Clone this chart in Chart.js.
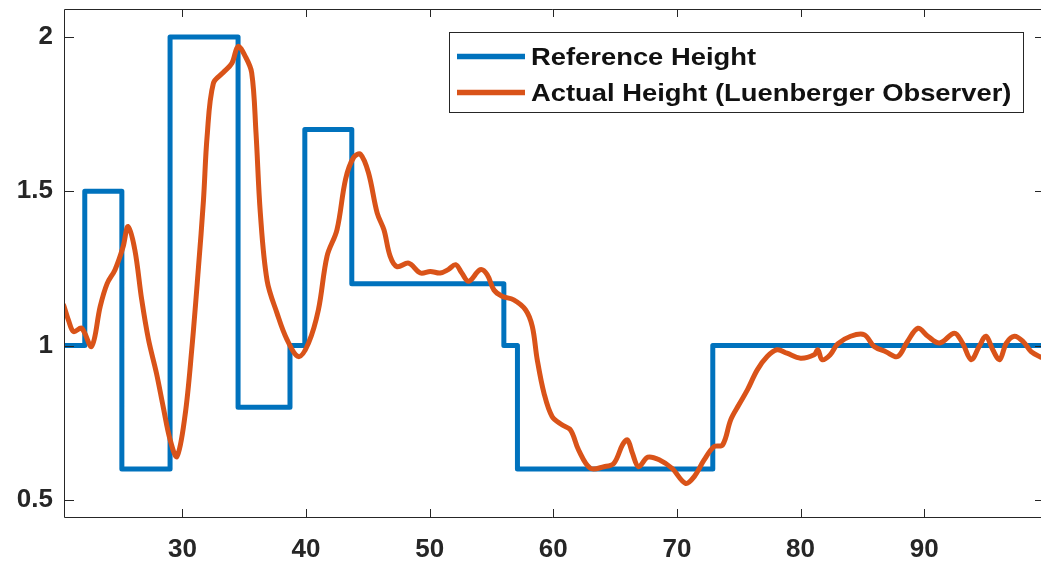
<!DOCTYPE html>
<html>
<head>
<meta charset="utf-8">
<title>Height tracking - Luenberger observer</title>
<script src="https://cdn.jsdelivr.net/npm/chart.js@4/dist/chart.umd.min.js"></script>
<style>
  html, body { margin: 0; padding: 0; background: #fff; }
  canvas { display: block; }
</style>
</head>
<body>
<canvas id="heightChart" width="1041" height="567"></canvas>
<script>
// Reference height: level held from each switch time until the next one
const stepTimes  = [20.4, 22.1, 25.1, 29.0, 34.5, 38.7, 39.9, 43.7, 56.0, 57.1, 72.9, 99.5];
const stepLevels = [1.0,  1.5,  0.6,  2.0,  0.8,  1.0,  1.7,  1.2,  1.0,  0.6,  1.0,  1.0];

// Observed height (sampled trace)
const obsTimes = [
  20.4, 20.8, 21.2, 21.85, 22.65, 23.35, 23.9, 24.55, 25.2, 25.6,
  26.15, 26.7, 27.25, 27.9, 28.45, 29.0, 29.55, 30.2, 30.75, 31.3,
  31.7, 32.0, 32.5, 33.3, 34.0, 34.5, 35.05, 35.6, 35.95, 36.3,
  36.85, 37.65, 38.45, 39.4, 40.2, 41.0, 41.7, 42.5, 43.2, 43.85,
  44.4, 45.05, 45.75, 46.3, 46.8, 47.35, 48.3, 49.25, 50.05, 50.85,
  51.5, 52.1, 52.6, 53.15, 54.1, 54.65, 55.2, 55.85, 56.8, 57.75,
  58.3, 58.7, 59.25, 59.9, 60.7, 61.4, 62.05, 63.0, 64.1, 64.9,
  65.6, 66.0, 66.4, 66.9, 67.65, 68.6, 69.6, 70.7, 71.4, 72.2,
  73.0, 73.7, 74.35, 75.0, 75.7, 76.5, 77.3, 78.1, 78.9, 80.0,
  81.1, 81.4, 81.75, 82.4, 83.0, 84.05, 85.15, 85.95, 86.9, 87.85,
  88.65, 89.5, 90.3, 91.25, 92.45, 93.1, 93.8, 94.45, 95.0, 95.55,
  96.1, 96.65, 97.3, 98.0, 98.65, 99.45
];
const obsHeights = [
  1.13, 1.08, 1.045, 1.056, 0.997, 1.127, 1.2, 1.246, 1.32, 1.386,
  1.31, 1.15, 1.02, 0.91, 0.80, 0.695, 0.64, 0.77, 0.985, 1.255,
  1.47, 1.68, 1.85, 1.885, 1.915, 1.97, 1.94, 1.885, 1.69, 1.43,
  1.21, 1.105, 1.02, 0.964, 1.008, 1.116, 1.29, 1.375, 1.54, 1.61,
  1.62, 1.56, 1.43, 1.375, 1.29, 1.256, 1.267, 1.235, 1.24, 1.235,
  1.246, 1.262, 1.235, 1.208, 1.246, 1.23, 1.18, 1.16, 1.148, 1.116,
  1.062, 0.954, 0.845, 0.77, 0.743, 0.726, 0.661, 0.602, 0.607, 0.618,
  0.678, 0.694, 0.651, 0.607, 0.638, 0.629, 0.602, 0.553, 0.575, 0.629,
  0.672, 0.678, 0.759, 0.807, 0.856, 0.921, 0.964, 0.986, 0.975, 0.959,
  0.970, 0.986, 0.954, 0.97, 1.005, 1.03, 1.035, 0.997, 0.98, 0.964,
  1.013, 1.056, 1.03, 1.008, 1.04, 1.008, 0.954, 0.997, 1.03, 0.986,
  0.954, 1.008, 1.03, 1.013, 0.98, 0.962
];

const xTicks = [30, 40, 50, 60, 70, 80, 90];
const yTicks = [0.5, 1, 1.5, 2];

const X_MIN = 20.42, X_MAX = 99.45;
const Y_MIN = 0.444, Y_MAX = 2.091;

const AXIS_COLOR = '#262626';
const BLUE = '#0072BD';
const ORANGE = '#D95319';
const tickFont = { family: '"Liberation Sans", Arial, sans-serif', size: 26, weight: 'bold' };

// Box around the plot with inward tick marks on all four sides
// (the right edge sits on the canvas border, so only its ticks show)
const axesBox = {
  id: 'axesBox',
  afterDatasetsDraw(chart) {
    const { ctx, chartArea: a, scales } = chart;
    ctx.save();
    ctx.strokeStyle = AXIS_COLOR;
    ctx.lineWidth = 1;
    ctx.beginPath();
    ctx.moveTo(a.right, a.top + 0.5);
    ctx.lineTo(a.left + 0.5, a.top + 0.5);
    ctx.lineTo(a.left + 0.5, a.bottom + 0.5);
    ctx.lineTo(a.right, a.bottom + 0.5);
    xTicks.forEach(v => {
      const px = Math.round(scales.x.getPixelForValue(v)) + 0.5;
      ctx.moveTo(px, a.bottom); ctx.lineTo(px, a.bottom - 8);
      ctx.moveTo(px, a.top); ctx.lineTo(px, a.top + 8);
    });
    yTicks.forEach(v => {
      const py = Math.round(scales.y.getPixelForValue(v)) + 0.5;
      ctx.moveTo(a.left, py); ctx.lineTo(a.left + 10, py);
      ctx.moveTo(a.right, py); ctx.lineTo(a.right - 6, py);
    });
    ctx.stroke();
    ctx.restore();
  }
};

// Legend box in the upper right corner
const legendBox = {
  id: 'legendBox',
  afterDraw(chart) {
    const { ctx } = chart;
    const box = { x: 449.5, y: 32.5, w: 574, h: 80 };
    const rows = [56.5, 92.5];
    ctx.save();
    ctx.fillStyle = '#fff';
    ctx.fillRect(box.x, box.y, box.w, box.h);
    ctx.strokeStyle = AXIS_COLOR;
    ctx.lineWidth = 1;
    ctx.strokeRect(box.x, box.y, box.w, box.h);

    chart.data.datasets.forEach((ds, i) => {
      const y = rows[i];
      ctx.strokeStyle = ds.borderColor;
      ctx.lineWidth = 5.5;
      ctx.beginPath();
      ctx.moveTo(457, y);
      ctx.lineTo(525, y);
      ctx.stroke();

      ctx.save();
      ctx.translate(531, y + 8.5);
      ctx.scale(1.14, 1);
      ctx.fillStyle = '#111';
      ctx.font = 'bold 24px "Liberation Sans", Arial, sans-serif';
      ctx.textBaseline = 'alphabetic';
      ctx.fillText(ds.label, 0, 0);
      ctx.restore();
    });
    ctx.restore();
  }
};

new Chart(document.getElementById('heightChart'), {
  type: 'line',
  data: {
    datasets: [
      {
        label: 'Reference Height',
        data: stepTimes.map((t, i) => ({ x: t, y: stepLevels[i] })),
        borderColor: BLUE,
        borderWidth: 5,
        stepped: 'before',
        pointRadius: 0,
        borderJoinStyle: 'round',
        clip: 0,
        order: 2
      },
      {
        label: 'Actual Height (Luenberger Observer)',
        data: obsTimes.map((t, i) => ({ x: t, y: obsHeights[i] })),
        borderColor: ORANGE,
        borderWidth: 5,
        tension: 0.35,
        pointRadius: 0,
        borderJoinStyle: 'round',
        borderCapStyle: 'round',
        clip: 0,
        order: 1
      }
    ]
  },
  options: {
    responsive: false,
    animation: false,
    events: [],
    layout: { padding: { top: 9, right: 0, left: 0, bottom: 0 } },
    plugins: {
      legend: { display: false },
      tooltip: { enabled: false }
    },
    scales: {
      x: {
        type: 'linear',
        min: X_MIN,
        max: X_MAX,
        afterFit: s => { s.height = 50; s.paddingLeft = 0; s.paddingRight = 0; },
        afterBuildTicks: s => { s.ticks = xTicks.map(v => ({ value: v })); },
        grid: { display: false, drawTicks: false },
        border: { display: false },
        ticks: {
          font: tickFont,
          color: AXIS_COLOR,
          padding: 17,
          maxRotation: 0,
          autoSkip: false,
          callback: v => String(v)
        }
      },
      y: {
        type: 'linear',
        min: Y_MIN,
        max: Y_MAX,
        afterFit: s => { s.width = 64; s.paddingTop = 0; s.paddingBottom = 0; },
        afterBuildTicks: s => { s.ticks = yTicks.map(v => ({ value: v })); },
        grid: { display: false, drawTicks: false },
        border: { display: false },
        ticks: {
          font: tickFont,
          color: AXIS_COLOR,
          padding: 11,
          autoSkip: false,
          callback: v => String(v)
        }
      }
    }
  },
  plugins: [axesBox, legendBox]
});
</script>
</body>
</html>
